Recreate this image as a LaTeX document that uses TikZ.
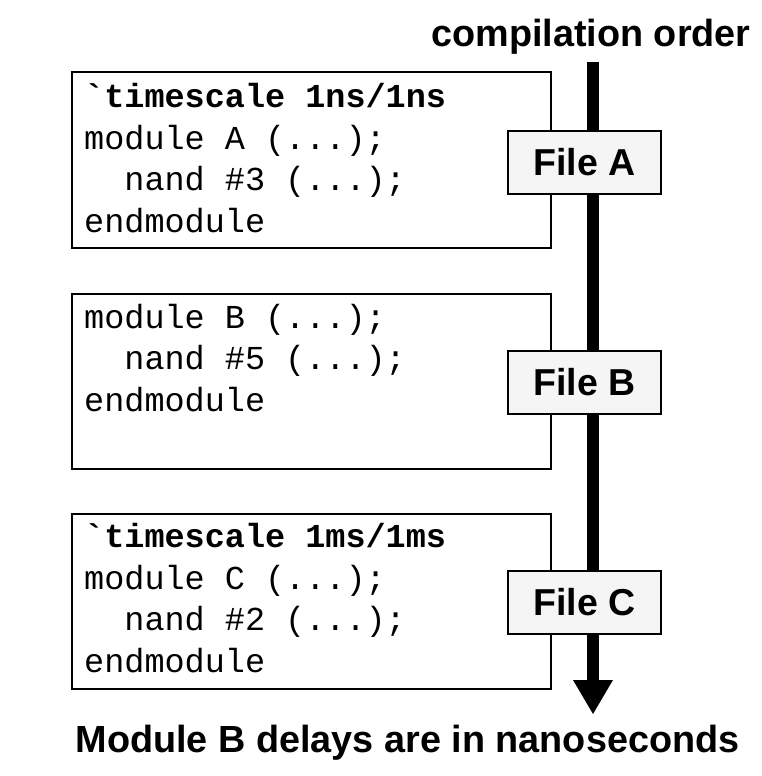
\documentclass[tikz,border=0pt]{standalone}
\usepackage{fontspec}
\usepackage{tikz}
\usetikzlibrary{arrows.meta, positioning}
\newfontfamily\codefont{Liberation Mono}
\newfontfamily\labelfont{Liberation Sans}
\definecolor{boxgray}{HTML}{F5F5F5}

\begin{document}
\begin{tikzpicture}[
  x=1pt, y=-1pt,
  codebox/.style={draw, line width=2pt, minimum width=479pt, inner sep=0pt, outer sep=0pt, anchor=north west},
  code/.style={font=\codefont\fontsize{33.5}{41.5}\selectfont, align=left, inner sep=0pt, anchor=base west},
  filebox/.style={draw, line width=2pt, fill=boxgray, minimum width=153pt, minimum height=63pt, inner sep=0pt,
    font=\labelfont\bfseries\fontsize{37.5}{45}\selectfont},
  caption/.style={font=\labelfont\bfseries\fontsize{37.8}{45}\selectfont, inner sep=0pt, anchor=base},
  flow/.style={line width=12pt, -{Triangle[width=40pt, length=34pt, line width=0pt]}}
]
\useasboundingbox (0,0) rectangle (761,776);

% code boxes
\node[codebox, minimum height=176pt] (boxA) at (72,72) {};
\node[codebox, minimum height=175pt, below=46pt of boxA.south west, anchor=north west] (boxB) {};
\node[codebox, minimum height=175pt, below=45pt of boxB.south west, anchor=north west] (boxC) {};

% base anchor sits on the last line
\node[code] (codeA) at ([shift={(12,160)}]boxA.north west)
  {{\bfseries\textasciigrave timescale 1ns/1ns}\\module A (...);\\\ \ nand \#3 (...);\\endmodule};
\node[code] (codeB) at ([shift={(12,117)}]boxB.north west)
  {module B (...);\\\ \ nand \#5 (...);\\endmodule};
\node[code] (codeC) at ([shift={(12,158)}]boxC.north west)
  {{\bfseries\textasciigrave timescale 1ms/1ms}\\module C (...);\\\ \ nand \#2 (...);\\endmodule};

% compilation order
\node[caption] (order) at (591,47) {compilation order};
\coordinate (start) at (593,62);
\coordinate (stop) at (593,714);
\draw[flow] (start) -- (stop);

\node[filebox] (fileA) at (584.5,162) {File A};
\node[filebox] (fileB) at (584.5,382.5) {File B};
\node[filebox] (fileC) at (584.5,602.5) {File C};

\node[caption] (note) at (407.5,752) {Module B delays are in nanoseconds};
\end{tikzpicture}
\end{document}
